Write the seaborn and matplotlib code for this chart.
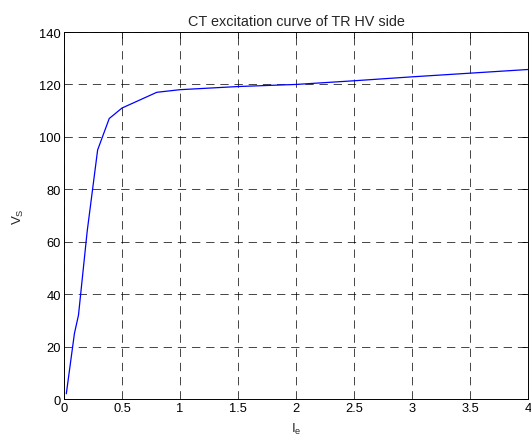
import matplotlib
matplotlib.use("Agg")
import matplotlib.pyplot as plt
import seaborn as sns
import pandas as pd

ie = [0.02, 0.09, 0.125, 0.2, 0.29, 0.39, 0.5, 0.8, 1.0, 1.5, 2.0, 2.5, 3.0, 3.5, 4.0]
vs = [2.0, 25.0, 32.0, 64.0, 95.0, 107.0, 111.0, 117.0, 118.0, 119.2, 120.0, 121.4, 122.9, 124.3, 125.7]
xticks = [0, 0.5, 1, 1.5, 2, 2.5, 3, 3.5, 4]
xticklabels = ["0", "0.5", "1", "1.5", "2", "2.5", "3", "3.5", "4"]
yticks = [0, 20, 40, 60, 80, 100, 120, 140]

sns.set_style("white")
plt.rcParams['font.family'] = ['Liberation Sans', 'DejaVu Sans']
plt.rcParams['mathtext.fontset'] = 'custom'
plt.rcParams['mathtext.rm'] = 'Liberation Sans'

df = pd.DataFrame({"Ie": ie, "Vs": vs})
fig = plt.figure(figsize=(5.31, 4.39), dpi=100)
ax = fig.add_axes([0.1205, 0.0888, 0.8739, 0.836])
sns.lineplot(data=df, x="Ie", y="Vs", ax=ax, color="#0000FF", linewidth=0.9, sort=False)
ax.set_xlim(0, 4)
ax.set_ylim(0, 140)
ax.set_xticks(xticks)
ax.set_xticklabels(xticklabels)
ax.set_yticks(yticks)
ax.grid(True, color="black", linestyle=(0, (10, 7)), linewidth=0.6, alpha=0.85)
ax.tick_params(direction="in", top=True, right=True, length=4, width=0.6, labelsize=9.3, colors="black", pad=2)
for s in ax.spines.values():
    s.set_visible(True)
    s.set_color("black")
    s.set_linewidth(0.7)
ax.set_title("CT excitation curve of TR HV side", fontsize=10.4, pad=5)
ax.set_xlabel(r"$\mathregular{I_e}$", fontsize=9.5, labelpad=5)
ax.set_ylabel(r"$\mathregular{V_S}$", fontsize=9.5, labelpad=10)
fig.savefig("out.png", dpi=100)
